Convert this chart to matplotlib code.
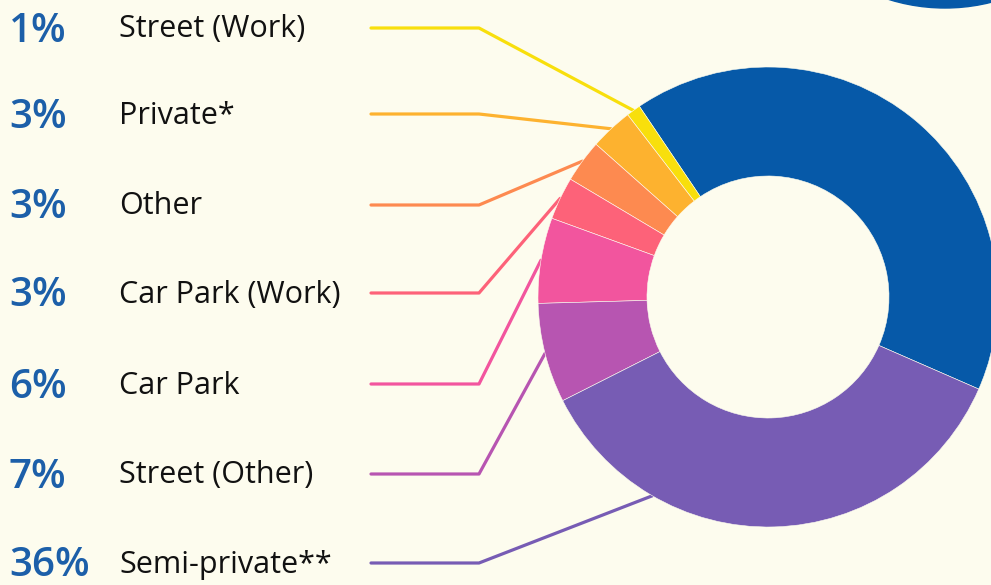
import numpy as np
import matplotlib
matplotlib.use('Agg')
import matplotlib.pyplot as plt
from matplotlib.patches import Circle

plt.rcParams['font.family'] = ['Open Sans', 'DejaVu Sans']

# 数据：各类停车位置占比（%），蓝色部分为剩余（图中标签被裁掉）
labels = ['Street (Work)', 'Private*', 'Other', 'Car Park (Work)', 'Car Park',
          'Street (Other)', 'Semi-private**']
shares = [1, 3, 3, 3, 6, 7, 36]
rest_share = 41
pct_text = ['1%', '3%', '3%', '3%', '6%', '7%', '36%']

colors = ['#f8df0c', '#fdb22f', '#fd8a50', '#fd6279', '#f2559e', '#b755b1', '#775cb4']
rest_color = '#0659a8'
bg = '#fdfcee'
pct_color = '#1c5fa9'

W, H = 991, 585
fig = plt.figure(figsize=(W / 100, H / 100), dpi=100, facecolor=bg)
ax = fig.add_axes([0, 0, 1, 1])
ax.set_facecolor(bg)

# 右上角被裁掉的蓝色圆
ax.add_patch(Circle((945, H + 181), 189, color=rest_color, zorder=1))

# 环形图（蓝色在前，逆时针依次为各类）
wedges, _ = ax.pie([rest_share] + shares, colors=[rest_color] + colors,
                   startangle=-23.6, radius=230, center=(768, H - 297),
                   wedgeprops=dict(width=109, edgecolor=bg, linewidth=0.4))

# 文字和连接线
row_y = [28, 114, 205, 293, 384, 474, 563]
for i, (lab, pct) in enumerate(zip(labels, pct_text)):
    y = H - row_y[i]
    ax.text(9, y - 13.5, pct, fontsize=29, fontweight='semibold', color=pct_color,
            ha='left', va='baseline')
    ax.text(119, y - 9.5, lab, fontsize=22, fontweight='medium', color='#111111',
            ha='left', va='baseline')
    w = wedges[i + 1]
    span = w.theta2 - w.theta1
    ang = np.deg2rad(w.theta1 + min(span / 2, 33))
    cx, cy = w.center
    px = cx + w.r * np.cos(ang)
    py = cy + w.r * np.sin(ang)
    ax.plot([371, 479, px], [y, y, py], color=colors[i], lw=2.3,
            solid_capstyle='round', solid_joinstyle='round', zorder=0)

ax.set_xlim(0, W)
ax.set_ylim(0, H)
ax.set_aspect('equal')
ax.axis('off')

plt.savefig('out.png', dpi=100, facecolor=bg)
